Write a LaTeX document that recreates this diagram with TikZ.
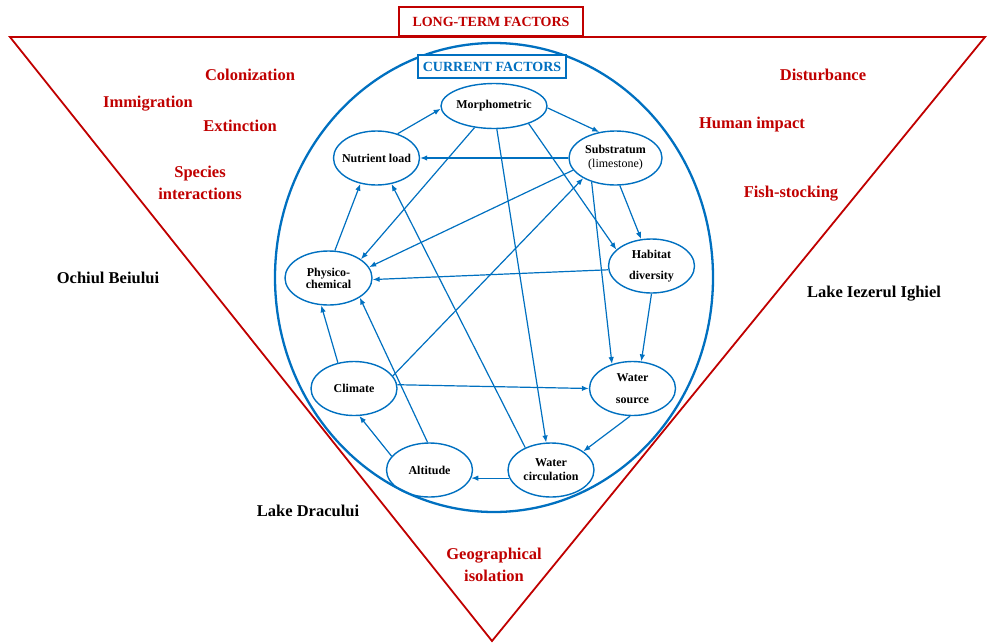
\documentclass[tikz,border=0pt]{standalone}
\usepackage{fontspec}
\setmainfont{Liberation Serif}
\usetikzlibrary{shapes,arrows.meta}

\definecolor{ltred}{RGB}{192,0,0}
\definecolor{cfblue}{RGB}{0,112,192}

\tikzset{
    factor/.style={ellipse, draw=cfblue, line width=1.4pt, minimum width=86pt, minimum height=54pt,
        inner xsep=-5pt, inner ysep=0pt, align=center, font=\fontsize{12}{14}\selectfont\bfseries},
    link/.style={-{Latex[length=7pt,width=5.5pt]}, draw=cfblue, line width=1.2pt},
    longterm/.style={text=ltred, align=center, font=\fontsize{16.5}{22.5}\selectfont\bfseries},
    lakename/.style={text=black, font=\fontsize{16.5}{20}\selectfont\bfseries},
    titlebox/.style={draw=#1, text=#1, fill=white, line width=1.8pt, inner sep=0pt, font=\fontsize{14}{16}\selectfont\bfseries}
}

\begin{document}
\begin{tikzpicture}[x=1pt,y=-1pt]
        \useasboundingbox (0,0) rectangle (987,643);

        % Inverted triangle of the long-term factors
        \draw[ltred, line width=1.8pt] (10,37) -- (985,37) -- (492,641) -- cycle;
        \node[titlebox=ltred, minimum width=184pt, minimum height=29pt] (longtitle) at (491,21.5) {LONG-TERM FACTORS};

        % Circle of the current factors
        \draw[cfblue, line width=2.3pt] (494,277.5) ellipse [x radius=219, y radius=234.5];
        \node[titlebox=cfblue, minimum width=148pt, minimum height=23pt] (curtitle) at (492,66.5) {CURRENT FACTORS};

        % Long-term factors, left and right of the circle
        \node[longterm] (colon) at (250,74.5) {Colonization};
        \node[longterm] (immig) at (148,104) {Immigration};
        \node[longterm] (extinct) at (240,126) {Extinction};
        \node[longterm] (species) at (200,183) {Species\\interactions};
        \node[longterm] (disturb) at (823,75) {Disturbance};
        \node[longterm] (human) at (752,125) {Human impact};
        \node[longterm] (fish) at (791,194) {Fish-stocking};
        \node[longterm] (geoiso) at (494,565) {Geographical\\isolation};

        % The three lakes
        \node[lakename] (ochiul) at (108,278) {Ochiul Beiului};
        \node[lakename] (iezerul) at (874,294) {Lake Iezerul Ighiel};
        \node[lakename] (dracului) at (308,511) {Lake Dracului};

        % Current factors
        \node[factor, minimum width=106pt, minimum height=45pt] (morph) at (494,106) {Morphometric};
        \node[factor] (nutr) at (376.5,158) {Nutrient load};
        \node[factor, minimum width=93pt] (substr) at (615.5,158) {Substratum\\{\mdseries(limestone)}};
        \node[factor] (habitat) at (651.5,266) {Habitat\\[7pt]diversity};
        \node[factor, minimum width=87pt] (physico) at (328.5,278) {Physico-\\[-2pt]chemical};
        \node[factor] (climate) at (354,388.5) {Climate};
        \node[factor] (watersrc) at (632.5,388.5) {Water\\[8pt]source};
        \node[factor] (altitude) at (429.5,470) {Altitude};
        \node[factor] (watercirc) at (551,470) {Water\\circulation};

        % Links between the current factors
        \draw[link] (nutr.49) -- (morph.183);
        \draw[link] (morph.358) -- (substr.122);
        \draw[link] (substr.180) -- (nutr.0);
        \draw[link] (morph.228) -- (physico.30);
        \draw[link] (morph.277) -- (watercirc.100);
        \draw[link] (morph.333) -- (habitat.155);
        \draw[link] (substr.196) -- (physico.15);
        \draw[link] (climate.18) -- (substr.212);
        \draw[link] (substr.225) -- (watersrc.130);
        \draw[link] (substr.279) -- (habitat.111);
        \draw[link] (habitat.185) -- (physico.358);
        \draw[link] (habitat.270) -- (watersrc.72);
        \draw[link] (physico.77) -- (nutr.238);
        \draw[link] (watercirc.139) -- (nutr.300);
        \draw[link] (climate.5) -- (watersrc.180);
        \draw[link] (climate.122) -- (physico.255);
        \draw[link] (altitude.94) -- (physico.328);
        \draw[link] (altitude.160) -- (climate.281);
        \draw[link] (watercirc.191) -- (altitude.349);
        \draw[link] (watersrc.265) -- (watercirc.30);
\end{tikzpicture}
\end{document}
